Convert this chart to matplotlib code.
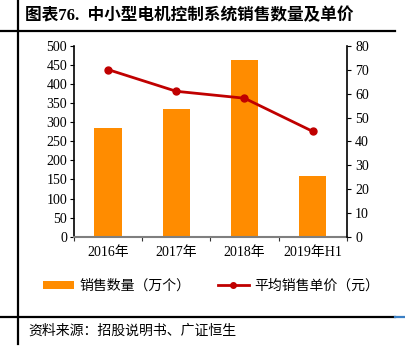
import matplotlib
matplotlib.use("Agg")
import matplotlib.pyplot as plt
from matplotlib.lines import Line2D
from matplotlib.patches import Patch

plt.rcParams['font.family'] = ['Liberation Serif', 'Noto Sans CJK SC']

# 数据
years = ['2016年', '2017年', '2018年', '2019年H1']
sales_qty = [285, 335, 463, 160]       # 销售数量（万个）
avg_price = [70.1, 61.0, 58.1, 44.2]   # 平均销售单价（元）

title = '图表76.  中小型电机控制系统销售数量及单价'
source = '资料来源：招股说明书、广证恒生'

bar_color = '#FF8C00'
line_color = '#C00000'

fig = plt.figure(figsize=(4.05, 3.51), dpi=100)
ax = fig.add_axes([74 / 405, 1 - 236.7 / 351, (346.7 - 74) / 405, (236.7 - 46) / 351])
ax2 = ax.twinx()

x = range(len(years))
ax.bar(x, sales_qty, width=0.4, color=bar_color, zorder=2)
ax2.plot(x, avg_price, color=line_color, linewidth=2, marker='o', markersize=5, zorder=3)

ax.set_xlim(-0.5, len(years) - 0.5)
ax.set_ylim(0, 500)
ax.set_yticks(range(0, 501, 50))
ax2.set_ylim(0, 80)
ax2.set_yticks(range(0, 81, 10))

# 类别分隔刻度 + 居中标签
ax.set_xticks([i - 0.5 for i in range(len(years) + 1)], minor=False)
ax.set_xticklabels([''] * (len(years) + 1))
ax.set_xticks(list(x), minor=True)
ax.set_xticklabels(years, minor=True, fontsize=10)
ax.tick_params(axis='x', which='minor', length=0, pad=7)
ax.tick_params(axis='x', which='major', length=3, direction='out', color='#333333')
ax.tick_params(axis='y', labelsize=10, length=3, direction='out', pad=2)
ax2.tick_params(axis='y', labelsize=10, length=3, direction='out', pad=3)

for a in (ax, ax2):
    a.spines['top'].set_visible(False)
ax.spines['right'].set_visible(False)
ax2.spines['bottom'].set_visible(False)
ax2.spines['left'].set_visible(False)
ax.spines['bottom'].set_color('#7f7f7f')
ax.spines['bottom'].set_linewidth(1.5)
ax.spines['left'].set_linewidth(1.2)
ax2.spines['right'].set_linewidth(1.2)

# 图例
handles = [
    Patch(facecolor=bar_color, edgecolor='none'),
    Line2D([0], [0], color=line_color, linewidth=2, marker='o', markersize=4),
]
labels = ['销售数量（万个）', '平均销售单价（元）']
fig.legend(handles, labels, loc='center', bbox_to_anchor=(211 / 405, 1 - 286 / 351), ncol=2,
           frameon=False, fontsize=10, handlelength=2.2, handleheight=0.5,
           columnspacing=2.0, handletextpad=0.4)

# 标题与来源
fig.text(25 / 405, 1 - 16 / 351, title, fontsize=12, fontweight='bold', va='center', ha='left')
fig.text(28 / 405, 1 - 331 / 351, source, fontsize=10, va='center', ha='left')

# 框线
fig.add_artist(Line2D([18 / 405, 18 / 405], [0.02, 1.0], transform=fig.transFigure, color='black', linewidth=1.6))
fig.add_artist(Line2D([0, 395 / 405], [1 - 30.5 / 351] * 2, transform=fig.transFigure, color='black', linewidth=1.6))
fig.add_artist(Line2D([0, 395 / 405], [1 - 317 / 351] * 2, transform=fig.transFigure, color='black', linewidth=1.6))
fig.add_artist(Line2D([395 / 405, 1.0], [1 - 317 / 351] * 2, transform=fig.transFigure, color='#3a7fc4', linewidth=1.6))

fig.savefig('out.png', dpi=100)
